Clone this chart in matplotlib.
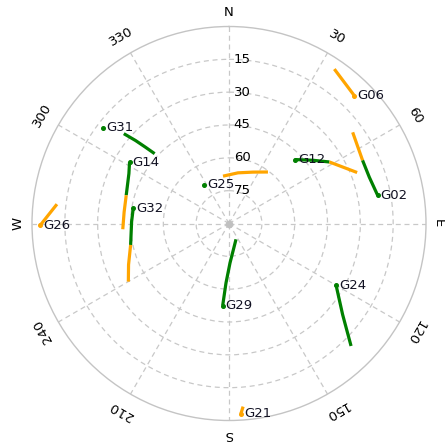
import numpy as np
import matplotlib
matplotlib.use("Agg")
import matplotlib.pyplot as plt

# ---------------- data ----------------
sat_prn = ['G06', 'G02', 'G12', 'G31', 'G14', 'G32', 'G26', 'G25', 'G29', 'G24', 'G21']
sat_az = [44.4, 79.2, 45.8, 307.2, 301.7, 279.0, 269.5, 327.3, 184.4, 120.0, 176.4]
sat_el = [8.2, 20.9, 48.1, 17.7, 36.6, 45.7, 3.8, 69.0, 52.4, 33.5, 3.0]
sat_fix = ['float', 'fix', 'fix', 'fix', 'fix', 'fix', 'float', 'fix', 'fix', 'fix', 'float']

track_sat = ['G06', 'G02', 'G02', 'G12', 'G12', 'G31', 'G14', 'G14',
             'G32', 'G32', 'G26', 'G25', 'G29', 'G24', 'G21']
track_fix = ['float', 'float', 'fix', 'fix', 'float', 'fix', 'fix', 'float',
             'fix', 'float', 'float', 'float', 'fix', 'fix', 'float']
track_az = [
    [34.3, 44.4],
    [53.6, 64.7],
    [64.7, 71.7, 79.2],
    [45.8, 52.9, 58.5],
    [58.5, 68.3],
    [310.5, 311.6, 312.4, 313.2],
    [301.7, 296.5, 289.8, 285.4],
    [285.4, 276.2, 266.9],
    [279.0, 271.1, 257.7],
    [257.7, 247.7, 240.0],
    [276.4, 269.5],
    [-7.2, 10.0, 25.0, 37.1],
    [156.1, 178.6, 182.9, 184.4],
    [120.0, 128.7, 135.1],
    [175.6, 176.4],
]
track_el = [
    [4.6, 8.2],
    [19.8, 22.5],
    [22.5, 22.5, 20.9],
    [48.1, 42.1, 36.2],
    [36.2, 27.0],
    [26.8, 32.9, 38.3, 43.4],
    [36.6, 38.9, 40.6, 41.3],
    [41.3, 41.8, 41.4],
    [45.7, 45.5, 44.0],
    [44.0, 40.4, 36.9],
    [10.9, 3.8],
    [68.2, 66.5, 64.1, 60.5],
    [82.1, 71.9, 62.8, 52.4],
    [33.5, 23.5, 11.0],
    [6.1, 3.0],
]

elev_rings = [15, 30, 45, 60, 75]
az_labels = ['N', '30', '60', 'E', '120', '150', 'S', '210', '240', 'W', '300', '330']
az_ticks = [0, 30, 60, 90, 120, 150, 180, 210, 240, 270, 300, 330]

fix_colors = {'fix': '#008000', 'float': '#FFA500'}

# ---------------- figure ----------------
W, H = 445, 443
fig = plt.figure(figsize=(W / 100, H / 100), dpi=100)
cx, cy, R = 229, 223.5, 197
ax = fig.add_axes([(cx - R) / W, (H - cy - R) / H, 2 * R / W, 2 * R / H], projection='polar')
ax.set_theta_zero_location('N')
ax.set_theta_direction(-1)
ax.set_ylim(0, 90)
ax.set_xticks(np.deg2rad(az_ticks))
ax.set_xticklabels([])
ax.set_yticks([90 - e for e in elev_rings])
ax.set_yticklabels([])
ax.grid(True, color='#c8c8c8', linestyle=(0, (4, 3)), linewidth=0.9)
ax.spines['polar'].set_color('#c4c4c4')
ax.spines['polar'].set_linewidth(1.0)
ax.tick_params(length=0)

font = 'DejaVu Sans'
fs = 9.5

# centre dot
ax.plot([0], [0], 'o', color='#c0c0c0', markersize=4.5, zorder=3)

# azimuth labels
for a, lab in zip(az_ticks, az_labels):
    if lab == 'E':
        rr = 95.5
    elif lab in ('N', 'S', 'W'):
        rr = 96.5
    else:
        rr = 98.5
    ax.text(np.deg2rad(a), rr, lab, rotation=-a,
            ha='center', va='center', fontsize=fs, family=font, color='black', clip_on=False)

# elevation labels
for e in elev_rings:
    ax.annotate(str(e), xy=(0, 90 - e), xytext=(3.5, 0), textcoords='offset points',
                ha='left', va='center', fontsize=fs, family=font, color='black', zorder=4)

# tracks
for az, el, fx in zip(track_az, track_el, track_fix):
    ax.plot(np.deg2rad(az), 90 - np.array(el), color=fix_colors[fx], linewidth=2.3,
            solid_capstyle='butt', zorder=5)

# current positions + labels
for prn, az, el, fx in zip(sat_prn, sat_az, sat_el, sat_fix):
    ax.plot([np.deg2rad(az)], [90 - el], 'o', color=fix_colors[fx], markersize=2.6, zorder=6)
    ax.annotate(prn, xy=(np.deg2rad(az), 90 - el), xytext=(2.2, 0), textcoords='offset points',
                ha='left', va='center', fontsize=fs, family=font, color='#111122', zorder=7)

fig.savefig('out.png', dpi=100)
